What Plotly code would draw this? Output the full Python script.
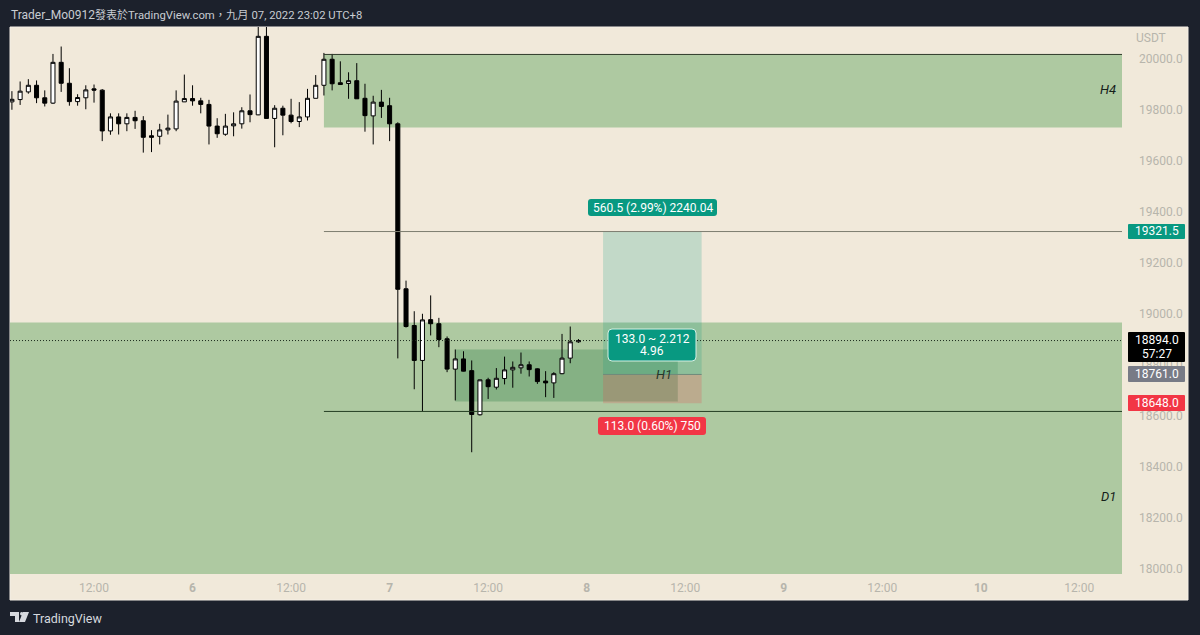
import pandas as pd
import plotly.graph_objects as go

# Hourly BTC/USDT candles, oldest first
opens = [19830,19839,19869,19895,19846,19825,19985,19903,19831,19846,19881,19876,19716,19771,19744,19769,19756,19697,19695,19720,
         19724,19830,19843,19834,19820,19735,19703,19736,19744,19795,19779,20087,19765,19805,19778,19753,19771,19844,19895,19997,
         19905,19902,19913,19844,19775,19829,19815,19744,19097,18953,18816,18976,18960,18901,18782,18822,18776,18603,18740,18711,
         18745,18779,18787,18799,18783,18735,18728,18764,18825,18889]
highs = [19872,19910,19919,19914,19875,20018,20047,19962,19860,19895,19898,19880,19785,19785,19785,19795,19774,19719,19744,19780,
         19875,19937,19895,19846,19838,19766,19783,19789,19809,19859,20157,20157,19817,19815,19842,19829,19881,19935,20022,20018,
         19989,19946,19982,19901,19854,19877,19846,19750,19129,19009,18999,19071,18983,18910,18859,18852,18816,18741,18748,18786,
         18831,18812,18847,18812,18785,18774,18770,18920,18949,18900]
lows = [19799,19818,19862,19825,19812,19822,19869,19815,19815,19801,19827,19676,19701,19702,19715,19724,19631,19633,19663,19702,
        19715,19830,19815,19785,19663,19689,19697,19695,19725,19750,19778,19765,19652,19699,19746,19731,19757,19844,19855,19875,
        19897,19842,19842,19713,19663,19767,19676,18824,18945,18703,18617,18914,18868,18770,18659,18773,18456,18600,18665,18702,
        18722,18709,18764,18753,18724,18672,18669,18762,18805,18885]
closes = [19840,19872,19895,19846,19825,19985,19903,19831,19847,19877,19876,19716,19771,19744,19769,19756,19691,19691,19720,19727,
          19833,19843,19834,19820,19735,19705,19735,19744,19795,19780,20087,19765,19805,19778,19753,19771,19844,19895,19997,19901,
          19898,19913,19842,19776,19829,19812,19744,19095,18949,18816,18975,18960,18898,18782,18822,18774,18604,18740,18713,18746,
          18779,18789,18799,18780,18733,18728,18764,18825,18889,18894]
candle_times = pd.date_range("2022-09-05 02:00", periods=len(opens), freq="h")

# Axis ticks
price_ticks = list(range(18000, 20001, 200))
time_ticks = ["2022-09-05 12:00", "2022-09-06 00:00", "2022-09-06 12:00", "2022-09-07 00:00", "2022-09-07 12:00",
              "2022-09-08 00:00", "2022-09-08 12:00", "2022-09-09 00:00", "2022-09-09 12:00", "2022-09-10 00:00",
              "2022-09-10 12:00"]
time_labels = ["12:00", "<b>6</b>", "12:00", "<b>7</b>", "12:00", "<b>8</b>", "12:00", "<b>9</b>", "12:00", "<b>10</b>", "12:00"]
x_range = ["2022-09-05 01:46", "2022-09-10 17:12"]
y_range = [17978.5, 20123.6]

# Drawn levels and zones
h4_zone = (19729, 20016)
d1_zone = (y_range[0], 18965)
h1_zone = (18655, 18859)
zone_start = "2022-09-06 16:00"
h1_start, h1_end = "2022-09-07 08:00", "2022-09-08 11:06"
pos_start, pos_end = "2022-09-08 02:00", "2022-09-08 14:00"
target, entry, stop = 19321.5, 18761.0, 18648.0
support = 18616
last_price = 18894.0

BG = "#1c212c"
CREAM = "#f1e9da"
AXIS_TEXT = "#b7b5ac"
FONT = "Roboto, 'Noto Sans CJK TC', sans-serif"
W, H = 1200, 635
L, R, T, B = 10, 1122, 27, 574


def px(x):
    return (x - L) / (R - L)


def py(y):
    return (B - y) / (B - T)


def rounded(x0, y0, x1, y1, r):
    """Rounded rectangle path in paper coordinates, from pixel bounds."""
    return (f"M {px(x0 + r)} {py(y0)} L {px(x1 - r)} {py(y0)} Q {px(x1)} {py(y0)} {px(x1)} {py(y0 + r)} "
            f"L {px(x1)} {py(y1 - r)} Q {px(x1)} {py(y1)} {px(x1 - r)} {py(y1)} "
            f"L {px(x0 + r)} {py(y1)} Q {px(x0)} {py(y1)} {px(x0)} {py(y1 - r)} "
            f"L {px(x0)} {py(y0 + r)} Q {px(x0)} {py(y0)} {px(x0 + r)} {py(y0)} Z")


def box(x0, y0, x1, y1, color, r=3, line=None):
    return dict(type="path", xref="paper", yref="paper", path=rounded(x0, y0, x1, y1, r), fillcolor=color,
                line=dict(color=line or color, width=1 if line else 0), layer="above")


def text(x, y, s, color="#ffffff", size=12, anchor="center", italic=False):
    return dict(xref="paper", yref="paper", x=px(x), y=py(y), text=f"<i>{s}</i>" if italic else s, showarrow=False,
                font=dict(color=color, size=size, family=FONT), xanchor=anchor, yanchor="middle",
                align="center", borderpad=0)


def zone(x0, x1, y0, y1, color):
    return dict(type="rect", xref="x", yref="y", x0=x0, x1=x1, y0=y0, y1=y1, fillcolor=color,
                line=dict(width=0), layer="below")


def level(x0, x1, y, color, width=1, dash="solid"):
    return dict(type="line", xref="x", yref="y", x0=x0, x1=x1, y0=y, y1=y,
                line=dict(color=color, width=width, dash=dash), layer="above")


def sized(s, size):
    return f'<span style="font-size:{size}px">{s}</span>'


fig = go.Figure(go.Candlestick(
    x=candle_times, open=opens, high=highs, low=lows, close=closes,
    increasing=dict(line=dict(color="#000000", width=1), fillcolor="#ffffff"),
    decreasing=dict(line=dict(color="#000000", width=1), fillcolor="#000000"),
    whiskerwidth=0, hoverinfo="skip", showlegend=False,
))

GREEN = "rgb(174,201,161)"
shapes = [
    # panel behind plot and axes
    dict(type="rect", xref="paper", yref="paper", x0=px(10), x1=px(1188), y0=py(600), y1=py(27),
         fillcolor=CREAM, line=dict(color="#f4efe6", width=1), layer="below"),
    zone(x_range[0], x_range[1], d1_zone[0], d1_zone[1], GREEN),
    zone(zone_start, x_range[1], h4_zone[0], h4_zone[1], GREEN),
    zone(h1_start, h1_end, h1_zone[0], h1_zone[1], "rgba(76,146,92,0.42)"),
    zone(pos_start, pos_end, entry, target, "rgba(8,153,129,0.2)"),
    zone(pos_start, pos_end, stop, entry, "rgba(242,54,69,0.2)"),
    level(pos_start, pos_end, entry, "#6f8a7c"),
    level(zone_start, x_range[1], h4_zone[1], "#2f3a2a"),
    level(zone_start, x_range[1], target, "#7d7d70"),
    level(zone_start, x_range[1], support, "#263f24"),
    level(x_range[0], x_range[1], last_price, "#1d2b1d", dash="1px,2px"),
    # trade labels
    box(588, 199, 717, 216, "#089981"),
    box(608, 329, 696, 361, "#089981", r=4, line="#d5efe4"),
    box(598, 417, 706, 435, "#f23645"),
    # price tags on the axis
    box(1128, 224, 1185, 239, "#089981", r=1),
    box(1128, 332, 1185, 362, "#000000", r=1),
    box(1128, 366, 1185, 382, "#787b86", r=1),
    box(1128, 395, 1185, 411, "#f23645", r=1),
    # TradingView mark in the footer
    dict(type="path", xref="paper", yref="paper", fillcolor="#d6d9de", line=dict(width=0), layer="above",
         path=f"M {px(10)} {py(612)} L {px(19)} {py(612)} L {px(19)} {py(622)} L {px(15)} {py(622)} "
              f"L {px(15)} {py(616)} L {px(10)} {py(616)} Z"),
    dict(type="path", xref="paper", yref="paper", fillcolor="#d6d9de", line=dict(width=0), layer="above",
         path=f"M {px(23)} {py(612)} L {px(29)} {py(612)} L {px(25)} {py(622)} L {px(19)} {py(622)} Z"),
    dict(type="circle", xref="paper", yref="paper", x0=px(20), x1=px(23.4), y0=py(615.5), y1=py(612),
         fillcolor="#d6d9de", line=dict(width=0), layer="above"),
]

header = ("Trader_Mo0912" + sized("發表於", 11) + sized("TradingView.com，九月 07, 2022 23:02 UTC+8", 11.3))

annotations = [
    text(10, 15, header, color="#c8ccd2", size=12, anchor="left"),
    text(32, 618.5, "TradingView", color="#d6d9de", size=12.5, anchor="left"),
    text(1151, 38, "USDT", color=AXIS_TEXT, size=12),
    text(1108, 89, "H4", color="#15201a", size=13, italic=True),
    text(664, 374, "H1", color="#26352a", size=13, italic=True),
    text(1108, 496, "D1", color="#15201a", size=13, italic=True),
    text(652.5, 207.5, "560.5 (2.99%) 2240.04"),
    text(652, 339, "133.0 ~ 2.212"),
    text(652, 351, "4.96"),
    text(652, 426, "113.0 (0.60%) 750"),
    text(1156.5, 231.5, "19321.5"),
    text(1156.5, 340, "18894.0"),
    text(1156.5, 354, "57:27"),
    text(1156.5, 374, "18761.0"),
    text(1156.5, 403, "18648.0"),
]

fig.update_layout(
    width=W, height=H, autosize=False,
    margin=dict(l=L, r=W - R, t=T, b=H - B, pad=0),
    paper_bgcolor=BG, plot_bgcolor=CREAM,
    font=dict(family=FONT, color=AXIS_TEXT, size=12),
    shapes=shapes, annotations=annotations, dragmode=False,
    xaxis=dict(type="date", range=x_range, rangeslider=dict(visible=False), showgrid=False, zeroline=False,
               showline=False, ticks="", tickvals=time_ticks, ticktext=time_labels, ticklabelstandoff=5,
               tickfont=dict(size=12, color=AXIS_TEXT, family=FONT)),
    yaxis=dict(side="right", range=y_range, showgrid=False, zeroline=False, showline=False, ticks="",
               tickvals=price_ticks, ticktext=[f"{v:.1f}" for v in price_ticks], ticklabelstandoff=16,
               tickfont=dict(size=12, color=AXIS_TEXT, family=FONT)),
)

fig.write_html("out.html", config=dict(displayModeBar=False, responsive=False))
